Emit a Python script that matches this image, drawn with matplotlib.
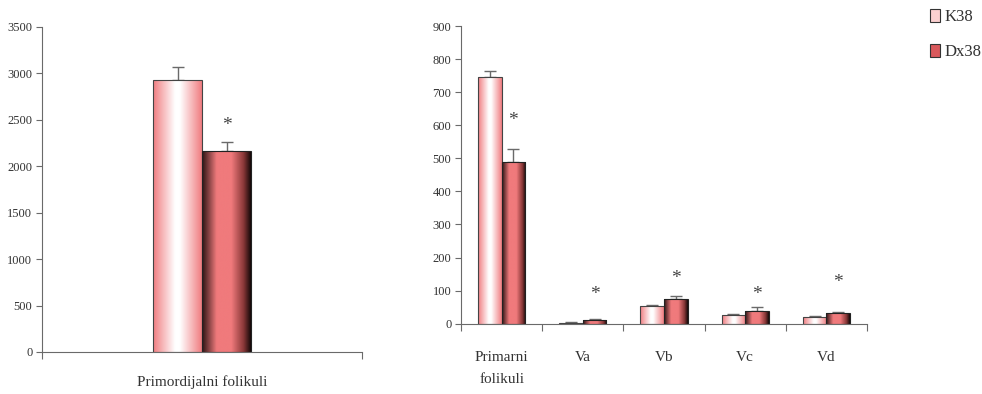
import numpy as np
import matplotlib
matplotlib.use("Agg")
import matplotlib.pyplot as plt
from matplotlib.colors import LinearSegmentedColormap
from matplotlib.patches import Patch

plt.rcParams['font.family'] = ['Liberation Serif', 'DejaVu Serif']

series = ['K38', 'Dx38']

# left panel
left_cat = ['Primordijalni folikuli']
left_k38 = [2929]
left_k38_err = [137]
left_dx38 = [2165]
left_dx38_err = [96]
left_star = [2440]

# right panel
right_cat = ['Primarni\nfolikuli', 'Va', 'Vb', 'Vc', 'Vd']
right_k38 = [746, 3, 54, 27, 19]
right_k38_err = [19, 2, 2, 3, 3]
right_dx38 = [489, 10, 74, 39, 31]
right_dx38_err = [38, 4, 11, 12, 3]
right_star = [615, 88, 138, 88, 124]

cm_k = LinearSegmentedColormap.from_list('k', [(0, '#f07c80'), (0.45, '#ffffff'), (0.55, '#ffffff'), (1, '#f07c80')])
cm_d = LinearSegmentedColormap.from_list('d', [(0, '#2a1212'), (0.3, '#f07a7c'), (0.6, '#f07a7c'), (0.85, '#8a3838'), (1, '#140808')])

grey = '#6a6a6a'
txt = '#333333'


def shade(ax, bars, cmap):
    grad = np.linspace(0, 1, 256).reshape(1, -1)
    for b in bars:
        x, y, w, h = b.get_x(), b.get_y(), b.get_width(), b.get_height()
        im = ax.imshow(grad, cmap=cmap, extent=[x, x + w, y, y + h], aspect='auto', zorder=1.5)
        im.set_clip_path(b)


def panel(ax, cats, k, ke, d, de, stars, width, ymax, step):
    x = np.arange(len(cats))
    bk = ax.bar(x - width / 2, k, width, facecolor='none', edgecolor='#444444', linewidth=0.8, zorder=2)
    bd = ax.bar(x + width / 2, d, width, facecolor='none', edgecolor='#222222', linewidth=0.8, zorder=2)
    shade(ax, bk, cm_k)
    shade(ax, bd, cm_d)
    ax.errorbar(x - width / 2, k, yerr=[np.zeros(len(k)), ke], fmt='none', ecolor=grey, capsize=4, elinewidth=1, zorder=1)
    ax.errorbar(x + width / 2, d, yerr=[np.zeros(len(d)), de], fmt='none', ecolor=grey, capsize=4, elinewidth=1, zorder=1)
    for xi, s in zip(x, stars):
        ax.text(xi + width / 2, s, '*', ha='center', va='center', fontsize=14, color='#444444')
    ax.set_xlim(-0.5, len(cats) - 0.5)
    ax.set_ylim(0, ymax)
    ax.set_yticks(np.arange(0, ymax + 1, step))
    ax.set_xticks(np.arange(len(cats) + 1) - 0.5)
    ax.set_xticklabels([])
    ax.set_xticks(x, minor=True)
    ax.set_xticklabels(cats, minor=True, fontsize=11, color=txt, linespacing=1.9, va='top')
    ax.tick_params(axis='x', which='minor', length=0, pad=20)
    ax.tick_params(axis='x', which='major', length=5, color=grey)
    ax.tick_params(axis='y', length=4, color=grey, labelsize=9, labelcolor=txt, pad=3)
    for s in ['top', 'right']:
        ax.spines[s].set_visible(False)
    for s in ['left', 'bottom']:
        ax.spines[s].set_color(grey)


fig = plt.figure(figsize=(9.82, 3.94), dpi=100)
ax1 = fig.add_axes([0.0428, 0.1066, 0.326, 0.825])
ax2 = fig.add_axes([0.4695, 0.1784, 0.4134, 0.7556])

panel(ax1, left_cat, left_k38, left_k38_err, left_dx38, left_dx38_err, left_star, 0.153, 3500, 500)
panel(ax2, right_cat, right_k38, right_k38_err, right_dx38, right_dx38_err, right_star, 0.29, 900, 100)
ax1.tick_params(axis='x', which='minor', pad=17)

handles = [Patch(facecolor='#fbd0d0', edgecolor='#333333', linewidth=0.8),
           Patch(facecolor='#d9595c', edgecolor='#333333', linewidth=0.8)]
fig.legend(handles, series, loc='upper left', bbox_to_anchor=(0.94, 0.995), frameon=False,
           fontsize=12, handlelength=0.6, handleheight=0.9, handletextpad=0.3, labelspacing=1.1,
           borderaxespad=0, labelcolor=txt)

fig.savefig('out.png', dpi=100)
